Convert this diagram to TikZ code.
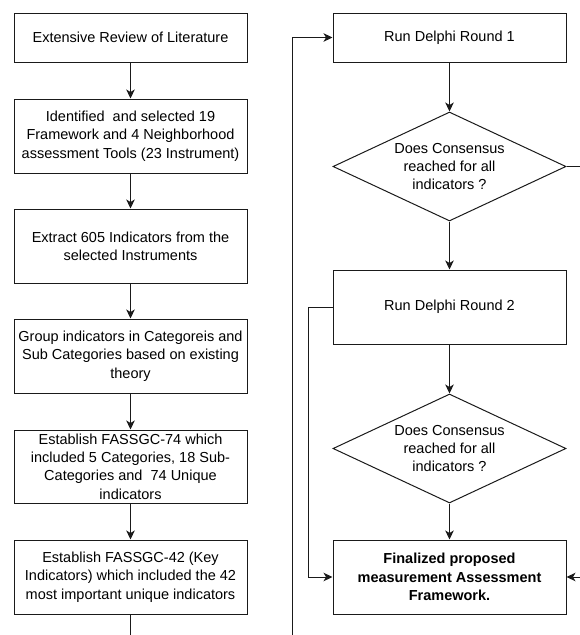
\documentclass[tikz,border=0pt]{standalone}
\usepackage{fontspec}
\setmainfont{Liberation Sans}
\usetikzlibrary{shapes.geometric,arrows.meta}
\definecolor{linegray}{HTML}{1A1A1A}
\begin{document}
\begin{tikzpicture}[x=1pt,y=-1pt,
  every node/.style={font=\fontsize{14.5}{18.3}\selectfont, align=center, inner sep=0pt},
  procbox/.style={draw=linegray, line width=1pt, minimum width=233pt},
  decision/.style={draw=linegray, line width=1pt, diamond, aspect=2.14, minimum width=233pt, minimum height=109pt},
  flow/.style={draw=linegray, line width=1pt, -{Stealth[length=9pt,width=8.5pt,inset=2.5pt]}},
  plain/.style={draw=linegray, line width=1pt}]
\useasboundingbox (0,0) rectangle (580,635);

% left column: literature review and indicator selection
\node[procbox, minimum height=49pt] (b1) at (130.5,37.5) {Extensive Review of Literature};
\node[procbox, minimum height=74pt] (b2) at (130.5,136) {Identified\ \ and selected 19\\Framework and 4 Neighborhood\\assessment Tools (23 Instrument)};
\node[procbox, minimum height=74pt] (b3) at (130.5,246) {Extract 605 Indicators from the\\selected Instruments};
\node[procbox, minimum height=74pt] (b4) at (130.5,356) {Group indicators in Categoreis and\\Sub Categories based on existing\\theory};
\node[procbox, minimum height=73pt] (b5) at (130.5,466.5) {Establish FASSGC-74 which\\included 5 Categories, 18 Sub-\\Categories and\ \ 74 Unique\\indicators};
\node[procbox, minimum height=74pt] (b6) at (130.5,577) {Establish FASSGC-42 (Key\\Indicators) which included the 42\\most important unique indicators};
\coordinate (lend) at (130.5,635);

% right column: Delphi rounds
\node[procbox, minimum height=49pt] (r1) at (449.5,37.5) {Run Delphi Round 1};
\node[decision] (d1) at (449.5,166.5) {Does Consensus\\reached for all\\indicators ?};
\node[procbox, minimum height=74pt] (r2) at (449.5,307) {Run Delphi Round 2};
\node[decision] (d2) at (449.5,448.5) {Does Consensus\\reached for all\\indicators ?};
\node[procbox, minimum height=74pt] (r3) at (449.5,577) {\bfseries Finalized proposed\\\bfseries measurement Assessment\\\bfseries Framework.};

\coordinate (loopbot) at (292,635);
\coordinate (loopcorner) at (292,37.5);
\coordinate (d1out) at (580,166.5);
\coordinate (r3in) at (580,577);
\coordinate (r2side) at (308,307);

% connectors
\path[flow] (b1) -- (b2);
\path[flow] (b2) -- (b3);
\path[flow] (b3) -- (b4);
\path[flow] (b4) -- (b5);
\path[flow] (b5) -- (b6);
\path[plain] (b6) -- (lend);

\path[flow] (loopbot) -- (loopcorner) -- (r1.west);
\path[flow] (r1) -- (d1);
\path[plain] (d1.east) -- (d1out);
\path[flow] (d1) -- (r2);
\path[flow] (r2) -- (d2);
\path[flow] (d2) -- (r3);
\path[flow] (r2.west) -- (r2side) |- (r3.west);
\path[flow] (r3in) -- (r3.east);
\end{tikzpicture}
\end{document}
